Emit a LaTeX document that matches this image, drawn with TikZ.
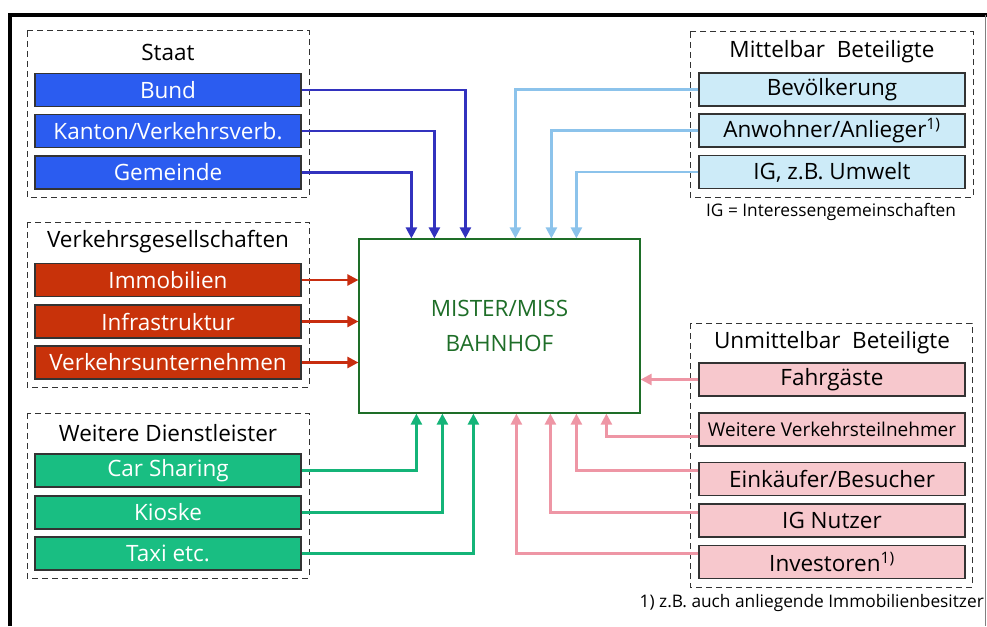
\documentclass[tikz,border=0pt]{standalone}
\usepackage{fontspec}
\setmainfont{Open Sans}
\usetikzlibrary{arrows.meta}

\definecolor{blueBox}{RGB}{43,92,240}
\definecolor{blueLine}{RGB}{50,50,190}
\definecolor{redBox}{RGB}{200,50,10}
\definecolor{redLine}{RGB}{200,45,15}
\definecolor{greenBox}{RGB}{25,190,130}
\definecolor{greenLine}{RGB}{20,180,120}
\definecolor{ltBlueBox}{RGB}{205,235,248}
\definecolor{ltBlueLine}{RGB}{140,195,235}
\definecolor{pinkBox}{RGB}{247,200,205}
\definecolor{pinkLine}{RGB}{238,150,165}
\definecolor{misterGreen}{RGB}{30,110,40}

\tikzset{
  box/.style={draw=black!80, line width=1.2pt, minimum width=266pt, minimum height=33pt,
    inner sep=0pt, font=\fontsize{22.5}{26}\selectfont},
  group/.style={draw=black!80, line width=1pt, dash pattern=on 6pt off 4pt},
  title/.style={font=\fontsize{22.5}{26}\selectfont},
  note/.style={font=\fontsize{17.3}{20}\selectfont},
  link/.style={line width=2.5pt, -{Triangle[width=11pt,length=11pt]}}
}

\begin{document}
\begin{tikzpicture}[x=1pt, y=-1pt]
    \useasboundingbox (0,0) rectangle (987,626);

    % Frame
    \draw[line width=4.5pt] (10,626) -- (10,15) -- (987,15);
    \draw[black!50, line width=1pt] (985.5,15) -- (985.5,626);

    % Staat
    \draw[group] (27,31) rectangle (309,197);
    \node[title] (Staat) at (168,52) {Staat};
    \node[box, fill=blueBox, text=white] (Bund) at (168,90) {Bund};
    \node[box, fill=blueBox, text=white] (Kanton) at (168,131) {Kanton/Verkehrsverb.};
    \node[box, fill=blueBox, text=white] (Gemeinde) at (168,172.5) {Gemeinde};

    % Verkehrsgesellschaften
    \draw[group] (27,222) rectangle (309,387);
    \node[title] (VG) at (168,242) {Verkehrsgesellschaften};
    \node[box, fill=redBox, text=white] (Immo) at (168,280) {Immobilien};
    \node[box, fill=redBox, text=white] (Infra) at (168,321.5) {Infrastruktur};
    \node[box, fill=redBox, text=white] (VU) at (168,362.5) {Verkehrsunternehmen};

    % Weitere Dienstleister
    \draw[group] (27,413) rectangle (309,578);
    \node[title] (WD) at (168,433) {Weitere Dienstleister};
    \node[box, fill=greenBox, text=white] (CarSh) at (168,470.5) {Car Sharing};
    \node[box, fill=greenBox, text=white] (Kiosk) at (168,512.5) {Kioske};
    \node[box, fill=greenBox, text=white] (Taxi) at (168,553.5) {Taxi etc.};

    % Mittelbar Beteiligte
    \draw[group] (690,32) rectangle (973,197);
    \node[title] (MB) at (832,52) {Mittelbar\ \ Beteiligte};
    \node[box, fill=ltBlueBox] (Bev) at (832,89.5) {Bevölkerung};
    \node[box, fill=ltBlueBox] (Anw) at (832,130.5) {Anwohner/Anlieger\textsuperscript{1)}};
    \node[box, fill=ltBlueBox] (IGU) at (832,172) {IG, z.B. Umwelt};
    \node[note] (IGnote) at (831,212) {IG = Interessengemeinschaften};

    % Unmittelbar Beteiligte
    \draw[group] (690,323) rectangle (972,587);
    \node[title] (UB) at (832,343) {Unmittelbar\ \ Beteiligte};
    \node[box, fill=pinkBox] (Fahr) at (832,379.5) {Fahrgäste};
    \node[box, fill=pinkBox, font=\fontsize{19}{22}\selectfont] (WVT) at (832,429.5) {Weitere Verkehrsteilnehmer};
    \node[box, fill=pinkBox] (Eink) at (832,479) {Einkäufer/Besucher};
    \node[box, fill=pinkBox] (IGN) at (832,520.5) {IG Nutzer};
    \node[box, fill=pinkBox] (Inv) at (832,562) {Investoren\textsuperscript{1)}};
    \node[note, anchor=east, inner sep=0pt] (FN) at (984,603) {1) z.B. auch anliegende Immobilienbesitzer};

    % Mister/Miss Bahnhof
    \node[draw=misterGreen, line width=1.2pt, fill=white, minimum width=281pt, minimum height=174pt,
      text=misterGreen, align=center, font=\fontsize{22.5}{35}\selectfont] (Mister) at (499.5,326) {MISTER/MISS\\BAHNHOF};

    % Connectors from the top
    \draw[link, blueLine] (Bund.east) -| ([xshift=107pt]Mister.north west);
    \draw[link, blueLine] (Kanton.east) -| ([xshift=76pt]Mister.north west);
    \draw[link, blueLine] (Gemeinde.east) -| ([xshift=53pt]Mister.north west);
    \draw[link, ltBlueLine] (Bev.west) -| ([xshift=157pt]Mister.north west);
    \draw[link, ltBlueLine] (Anw.west) -| ([xshift=193pt]Mister.north west);
    \draw[link, ltBlueLine] (IGU.west) -| ([xshift=218pt]Mister.north west);

    % Connectors from the sides
    \draw[link, redLine] (Immo.east) -- (Immo.east -| Mister.west);
    \draw[link, redLine] (Infra.east) -- (Infra.east -| Mister.west);
    \draw[link, redLine] (VU.east) -- (VU.east -| Mister.west);
    \draw[link, pinkLine] (Fahr.west) -- (Fahr.west -| Mister.east);

    % Connectors from below
    \draw[link, greenLine] (CarSh.east) -| ([xshift=58pt]Mister.south west);
    \draw[link, greenLine] (Kiosk.east) -| ([xshift=84pt]Mister.south west);
    \draw[link, greenLine] (Taxi.east) -| ([xshift=115pt]Mister.south west);
    \draw[link, pinkLine] ([yshift=-7pt]WVT.west) -| ([xshift=248pt]Mister.south west);
    \draw[link, pinkLine] (Eink.west |- CarSh.east) -| ([xshift=218pt]Mister.south west);
    \draw[link, pinkLine] (IGN.west |- Kiosk.east) -| ([xshift=192pt]Mister.south west);
    \draw[link, pinkLine] (Inv.west |- Taxi.east) -| ([xshift=158pt]Mister.south west);
\end{tikzpicture}
\end{document}
